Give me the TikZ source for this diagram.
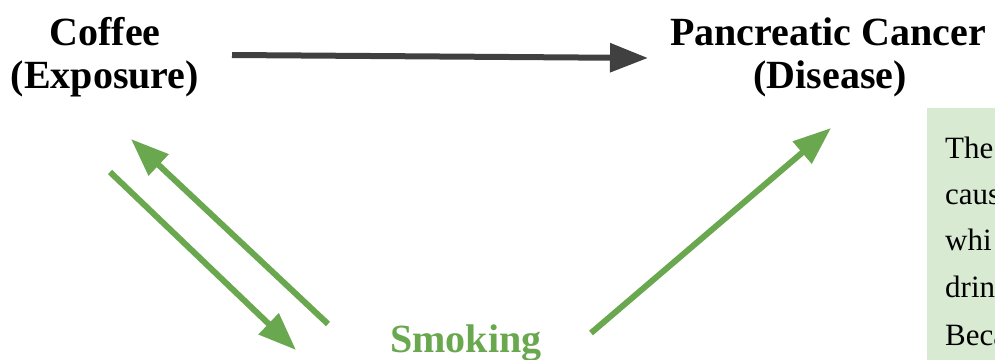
\documentclass[tikz,border=0pt]{standalone}
\usepackage{fontspec}
\setmainfont{Liberation Serif}[BoldFont={Liberation Serif Bold}, ItalicFont={Liberation Serif Italic}]
\usetikzlibrary{arrows.meta}
\definecolor{arrgreen}{HTML}{6AA84F}
\definecolor{arrdark}{HTML}{404040}
\definecolor{boxgreen}{HTML}{D9EAD3}
\tikzset{
  title/.style={inner sep=0pt, anchor=base, font=\fontsize{40}{43}\selectfont\bfseries},
  notetext/.style={inner sep=0pt, anchor=base west, font=\fontsize{31}{34}\selectfont},
  conn/.style={line width=6pt, -{Triangle[length=38pt,width=28pt]}},
}
\begin{document}
\begin{tikzpicture}[x=1pt,y=-1pt]
\useasboundingbox (0,0) rectangle (995,359);
\clip (0,0) rectangle (995,359);
% note box
\fill[boxgreen] (927,108) rectangle (1010,370);
\node[notetext] (n1) at (945,158) {The};
\node[notetext] (n2) at (945,204) {caus};
\node[notetext] (n3) at (945,250) {whi};
\node[notetext] (n4) at (945,297) {drin};
\node[notetext] (n5) at (945,345) {Beca};
% labels
\node[title] (coffee) at (105,45) {Coffee};
\node[title] (coffeeb) at (105,88) {(Exposure)};
\node[title] (cancer) at (828,45) {Pancreatic Cancer};
\node[title] (cancerb) at (830,88) {(Disease)};
\node[title, text=arrgreen] (smoking) at (466,352) {Smoking};
% connector end points
\coordinate (a1) at (232,55);
\coordinate (a2) at (648,58);
\coordinate (b1) at (110,172);
\coordinate (b2) at (296,350);
\coordinate (c1) at (328,324);
\coordinate (c2) at (131,139);
\coordinate (d1) at (591,333);
\coordinate (d2) at (831,128);
\draw[conn, draw=arrdark, fill=arrdark] (a1) -- (a2);
\draw[conn, draw=arrgreen, fill=arrgreen] (b1) -- (b2);
\draw[conn, draw=arrgreen, fill=arrgreen] (c1) -- (c2);
\draw[conn, draw=arrgreen, fill=arrgreen] (d1) -- (d2);
\end{tikzpicture}
\end{document}
